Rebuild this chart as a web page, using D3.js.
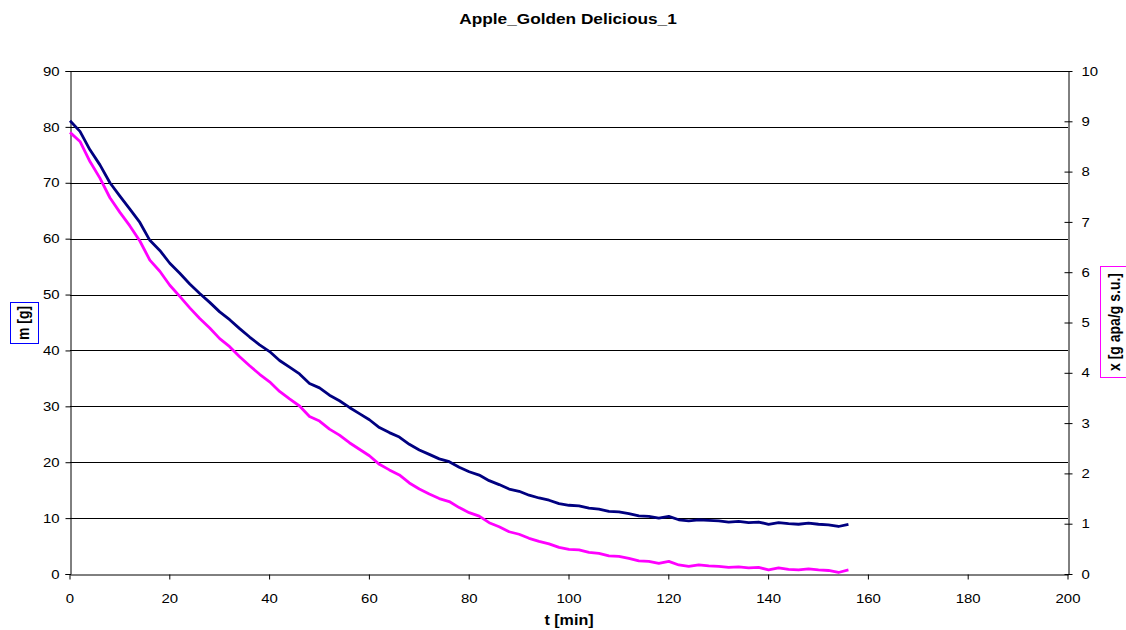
<!DOCTYPE html>
<html>
<head>
<meta charset="utf-8">
<script src="https://cdn.jsdelivr.net/npm/d3@7/dist/d3.min.js"></script>
<style>
  html, body { margin: 0; padding: 0; background: #fff; }
  svg { display: block; font-family: "Liberation Sans", Arial, sans-serif; }
</style>
</head>
<body>
<svg id="chart" width="1126" height="630"></svg>
<script>
// Drying run: sample mass m [g] and moisture content x [g apa/g s.u.] over time
const timeMin = [0,2,4,6,8,10,12,14,16,18,20,22,24,26,28,30,32,34,36,38,40,42,44,46,48,50,52,54,56,58,60,62,64,66,68,70,72,74,76,78,80,82,84,86,88,90,92,94,96,98,100,102,104,106,108,110,112,114,116,118,120,122,124,126,128,130,132,134,136,138,140,142,144,146,148,150,152,154,156];

const massG = [81.1,79.2,75.9,73.2,70.0,67.6,65.3,62.9,59.7,57.9,55.6,53.8,51.9,50.2,48.6,46.9,45.5,43.9,42.4,41.0,39.8,38.2,37.0,35.8,34.1,33.3,32.0,31.0,29.8,28.7,27.6,26.2,25.3,24.5,23.2,22.2,21.4,20.6,20.1,19.1,18.3,17.7,16.7,16.0,15.2,14.8,14.1,13.6,13.2,12.6,12.3,12.2,11.8,11.6,11.2,11.1,10.8,10.4,10.3,10.0,10.3,9.7,9.5,9.7,9.6,9.5,9.3,9.4,9.2,9.3,8.9,9.2,9.0,8.9,9.1,8.9,8.8,8.5,8.9];

const moisture = [8.78,8.60,8.20,7.87,7.48,7.19,6.92,6.62,6.24,6.02,5.74,5.52,5.29,5.08,4.89,4.68,4.52,4.32,4.14,3.97,3.82,3.63,3.48,3.34,3.13,3.04,2.88,2.76,2.61,2.48,2.35,2.18,2.07,1.97,1.81,1.69,1.59,1.50,1.44,1.32,1.22,1.15,1.02,0.94,0.84,0.79,0.71,0.65,0.60,0.53,0.49,0.48,0.43,0.41,0.36,0.35,0.31,0.26,0.25,0.21,0.25,0.18,0.15,0.18,0.16,0.15,0.13,0.14,0.12,0.13,0.08,0.12,0.09,0.08,0.10,0.08,0.07,0.03,0.08];

const xTicks = [0,20,40,60,80,100,120,140,160,180,200];
const leftTicks = [0,10,20,30,40,50,60,70,80,90];
const rightTicks = [0,1,2,3,4,5,6,7,8,9,10];

const chartTitle = "Apple_Golden Delicious_1";
const xTitle = "t [min]";
const leftTitle = "m [g]";
const rightTitle = "x [g apa/g s.u.]";

const svg = d3.select("#chart");
const L = 70, R = 1068, T = 71, B = 574;
const SX = "scale(1.15,1)";

const x = d3.scaleLinear().domain([0, 200]).range([L, R]);
const yL = d3.scaleLinear().domain([0, 90]).range([B, T]);
const yR = d3.scaleLinear().domain([0, 10]).range([B, T]);

// horizontal gridlines on the left-axis ticks
svg.append("g").selectAll("line").data(leftTicks.filter(d => d > 0)).join("line")
  .attr("x1", L).attr("x2", R)
  .attr("y1", d => Math.round(yL(d)) + 0.5).attr("y2", d => Math.round(yL(d)) + 0.5)
  .attr("stroke", "#000").attr("stroke-width", 1);

// left axis
const gL = svg.append("g").attr("transform", `translate(${L + 0.5},0)`)
  .call(d3.axisLeft(yL).tickValues(leftTicks).tickSize(5).tickPadding(7).tickFormat(d3.format("d")));
gL.select(".domain").attr("stroke", "#000");
gL.selectAll(".tick line").attr("stroke", "#000");
gL.selectAll(".tick text").attr("font-size", 13).attr("fill", "#000")
  .attr("font-family", "Liberation Sans, Arial, sans-serif")
  .attr("transform", SX).attr("x", -11 / 1.15);

// right axis with crossing ticks
const gR = svg.append("g").attr("transform", `translate(${R + 0.5},0)`)
  .call(d3.axisRight(yR).tickValues(rightTicks).tickSizeInner(4).tickSizeOuter(0).tickPadding(9).tickFormat(d3.format("d")));
gR.select(".domain").attr("stroke", "#000");
gR.selectAll(".tick line").attr("x1", -4).attr("x2", 4).attr("stroke", "#000");
gR.selectAll(".tick text").attr("font-size", 13).attr("fill", "#000")
  .attr("font-family", "Liberation Sans, Arial, sans-serif")
  .attr("transform", SX).attr("x", 13 / 1.15);

// bottom axis
const gB = svg.append("g").attr("transform", `translate(0,${B + 0.5})`)
  .call(d3.axisBottom(x).tickValues(xTicks).tickSize(5).tickPadding(14).tickSizeOuter(0).tickFormat(d3.format("d")));
gB.select(".domain").attr("stroke", "#000");
gB.selectAll(".tick line").attr("stroke", "#000");
gB.selectAll(".tick text").attr("font-size", 13).attr("fill", "#000")
  .attr("font-family", "Liberation Sans, Arial, sans-serif")
  .each(function() {
    const p = d3.select(this.parentNode);
    d3.select(this).attr("transform", SX);
  });
gB.selectAll(".tick").each(function(d) {
  const g = d3.select(this);
  const tx = x(d);
  g.attr("transform", `translate(${tx},0)`);
});

// series lines
const massLine = d3.line().x((d, i) => x(timeMin[i])).y(d => yL(d));
const moistLine = d3.line().x((d, i) => x(timeMin[i])).y(d => yR(d));

svg.append("path").datum(massG)
  .attr("d", massLine).attr("fill", "none")
  .attr("stroke", "#000080").attr("stroke-width", 2.8).attr("stroke-linejoin", "round");
svg.append("path").datum(moisture)
  .attr("d", moistLine).attr("fill", "none")
  .attr("stroke", "#FF00FF").attr("stroke-width", 2.8).attr("stroke-linejoin", "round");

// chart title
svg.append("text").attr("transform", `translate(568,24) ${SX}`)
  .attr("text-anchor", "middle").attr("font-size", 15).attr("font-weight", "bold")
  .attr("fill", "#000").text(chartTitle);

// x axis title
svg.append("text").attr("transform", `translate(569,625) ${SX}`)
  .attr("text-anchor", "middle").attr("font-size", 14).attr("font-weight", "bold")
  .attr("fill", "#000").text(xTitle);

// left axis title in a blue frame
svg.append("rect").attr("x", 10.5).attr("y", 302.5).attr("width", 28).attr("height", 41)
  .attr("fill", "#fff").attr("stroke", "#0000FF").attr("stroke-width", 1);
svg.append("text").attr("transform", `translate(29,323) ${SX} rotate(-90)`)
  .attr("text-anchor", "middle").attr("font-size", 14).attr("font-weight", "bold")
  .attr("fill", "#000").text(leftTitle);

// right axis title in a magenta frame
svg.append("rect").attr("x", 1100.5).attr("y", 266.5).attr("width", 30).attr("height", 111)
  .attr("fill", "#fff").attr("stroke", "#FF00FF").attr("stroke-width", 1);
svg.append("text").attr("transform", `translate(1120,322) ${SX} rotate(-90)`)
  .attr("text-anchor", "middle").attr("font-size", 14).attr("font-weight", "bold")
  .attr("fill", "#000").text(rightTitle);
</script>
</body>
</html>
